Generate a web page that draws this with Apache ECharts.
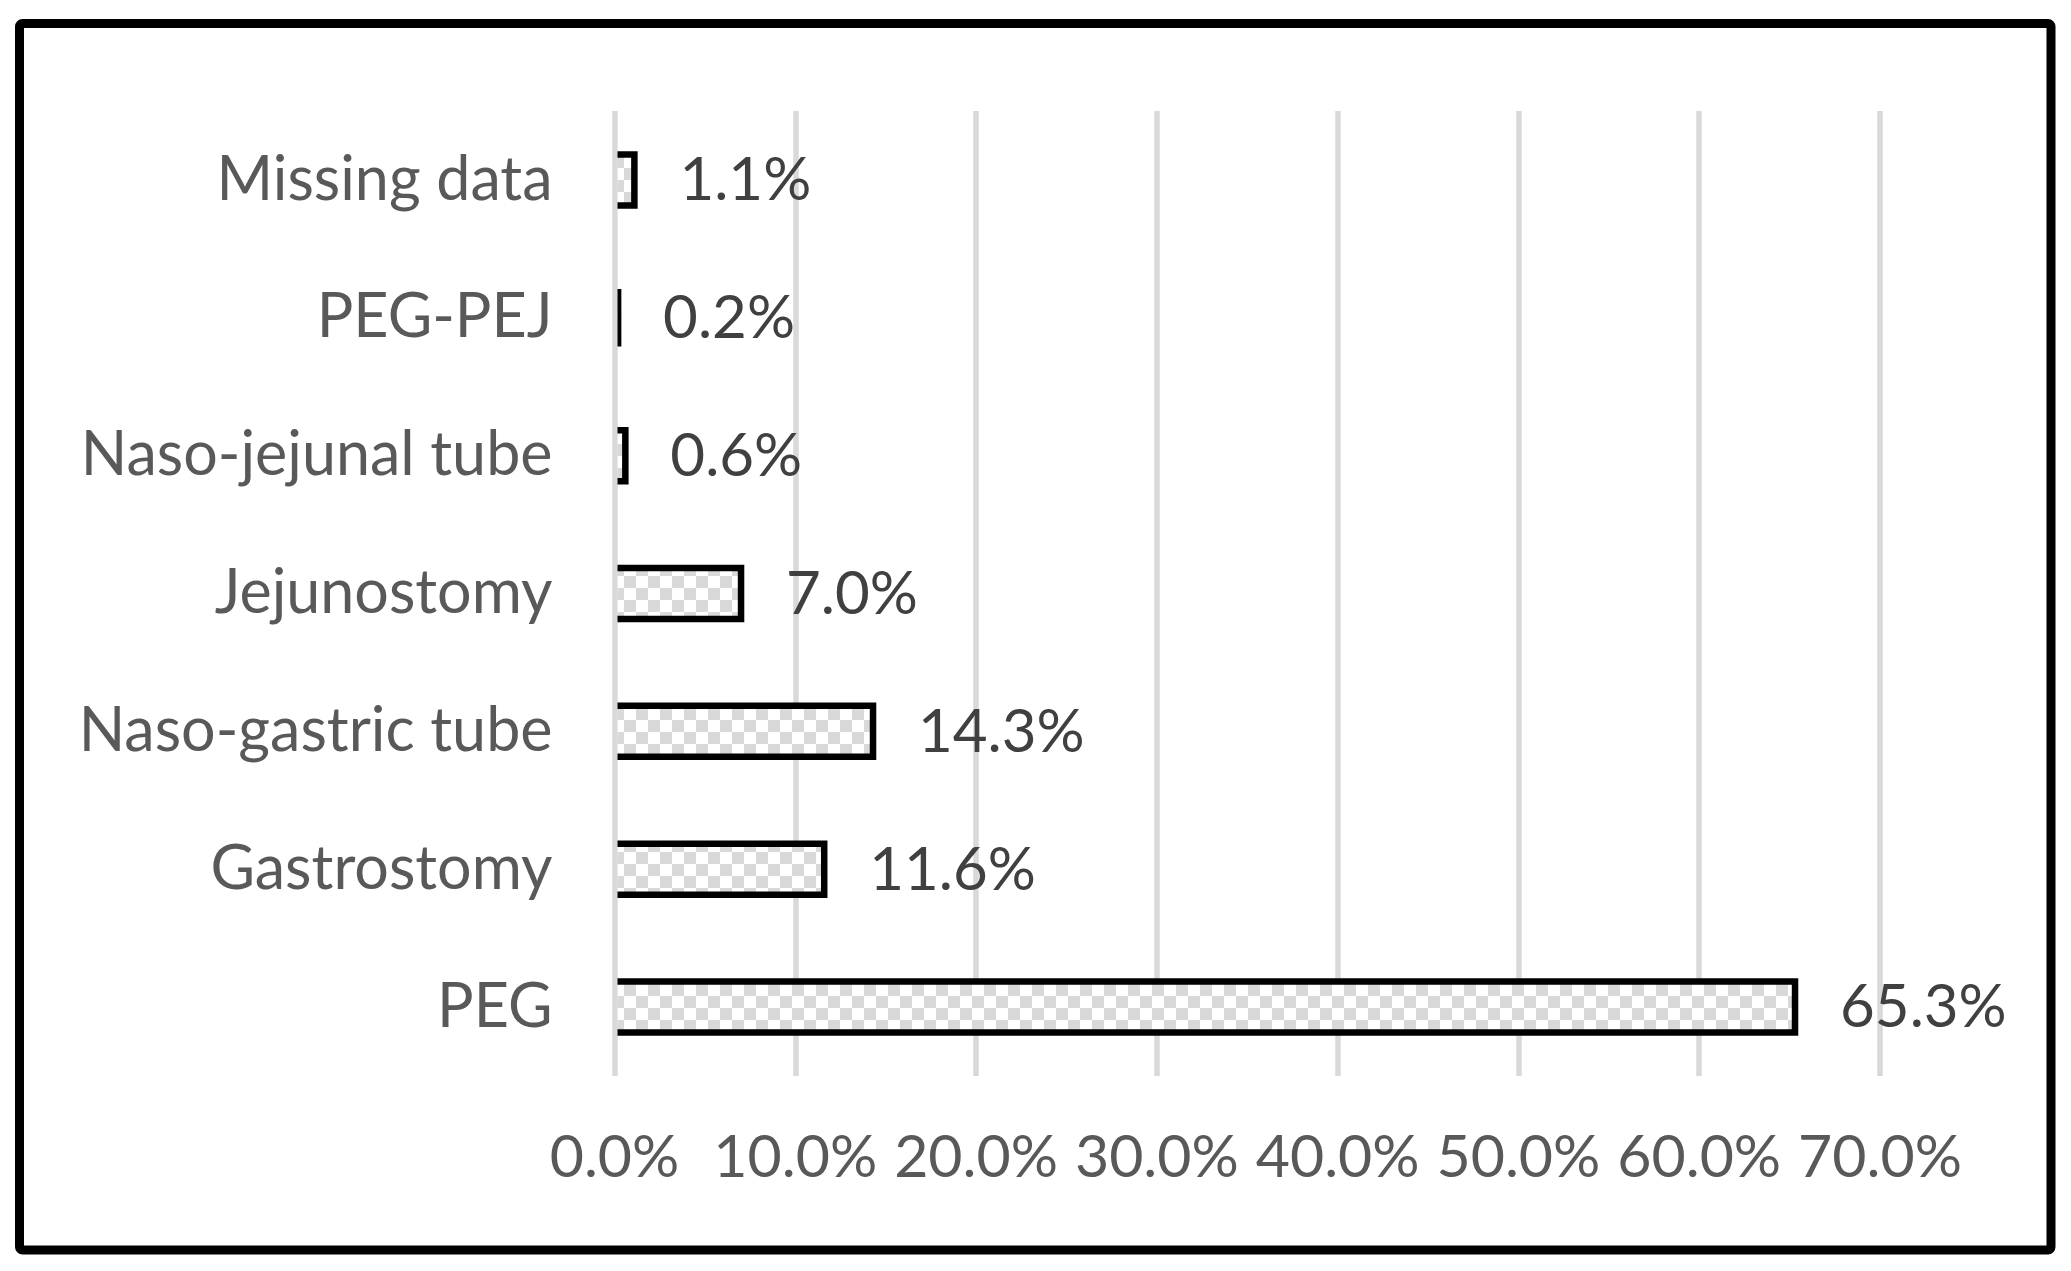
<!DOCTYPE html>
<html>
<head>
<meta charset="utf-8">
<script src="https://cdn.jsdelivr.net/npm/echarts@6/dist/echarts.min.js"></script>
<style>
html,body{margin:0;padding:0;background:#fff;}
#chart{width:2071px;height:1271px;}
</style>
</head>
<body>
<div id="chart"></div>
<script>
// Data (bottom to top as drawn on the category axis)
const categories = ['PEG', 'Gastrostomy', 'Naso-gastric tube', 'Jejunostomy', 'Naso-jejunal tube', 'PEG-PEJ', 'Missing data'];
const values = [65.3, 11.6, 14.3, 7.0, 0.6, 0.2, 1.1];
const axisTicks = [0, 10, 20, 30, 40, 50, 60, 70];

const FONT = 'Lato';

// checkerboard pattern
const pc = document.createElement('canvas');
pc.width = 24; pc.height = 24;
const g = pc.getContext('2d');
g.fillStyle = '#ffffff'; g.fillRect(0, 0, 24, 24);
g.fillStyle = '#d9d9d9';
g.fillRect(0, 0, 12, 12);
g.fillRect(12, 12, 12, 12);
const pattern = { image: pc, repeat: 'repeat' };

const chart = echarts.init(document.getElementById('chart'), null, { renderer: 'canvas' });

function renderItem(params, api) {
  const v = api.value(0);
  const idx = api.value(1);
  const p0 = api.coord([0, idx]);
  const p1 = api.coord([v, idx]);
  const h = api.size([0, 1])[1] * 0.37;
  const x0 = p0[0] + 3;
  const x1 = p1[0];
  const yc = p0[1];
  const top = yc - h / 2, bot = yc + h / 2;
  return {
    type: 'group',
    children: [
      {
        type: 'group',
        clipPath: { type: 'rect', shape: { x: x0, y: top - 10, width: Math.max(x1 - x0, 0) + 10, height: h + 20 } },
        children: [
          { type: 'rect', shape: { x: x0, y: top, width: Math.max(x1 - x0, 0), height: h }, style: { fill: pattern } },
          { type: 'polyline', shape: { points: [[x0 - 5, top], [x1, top], [x1, bot], [x0 - 5, bot]] },
            style: { stroke: '#000', lineWidth: 6.5, fill: null, lineJoin: 'miter' } }
        ]
      },
      { type: 'text', x: x1 + 45, y: yc + 1,
        style: { text: v.toFixed(1) + '%', fill: '#404040', fontSize: 60, fontFamily: FONT, align: 'left', verticalAlign: 'middle' } }
    ]
  };
}

chart.setOption({
  backgroundColor: '#ffffff',
  animation: false,
  grid: { left: 614.5, right: 191, top: 111, bottom: 195, containLabel: false },
  xAxis: {
    type: 'value', min: axisTicks[0], max: axisTicks[axisTicks.length - 1], interval: 10,
    axisLine: { show: false }, axisTick: { show: false },
    splitLine: { show: true, lineStyle: { color: '#d9d9d9', width: 5.5 } },
    axisLabel: { color: '#595959', fontSize: 59, fontFamily: FONT, margin: 52, lineHeight: 60,
      formatter: v => v.toFixed(1) + '%' }
  },
  yAxis: {
    type: 'category', data: categories,
    axisLine: { show: false }, axisTick: { show: false }, splitLine: { show: false },
    axisLabel: { color: '#595959', fontSize: 61, fontFamily: FONT, margin: 62 }
  },
  series: [{
    type: 'custom',
    renderItem: renderItem,
    encode: { x: 0, y: 1 },
    data: values.map((v, i) => [v, i]),
    z: 5
  }],
  graphic: [{
    type: 'rect',
    shape: { x: 19.5, y: 23.5, width: 2031.5, height: 1226.5, r: 3 },
    style: { fill: null, stroke: '#000', lineWidth: 9 },
    z: 100
  }]
});
</script>
</body>
</html>
